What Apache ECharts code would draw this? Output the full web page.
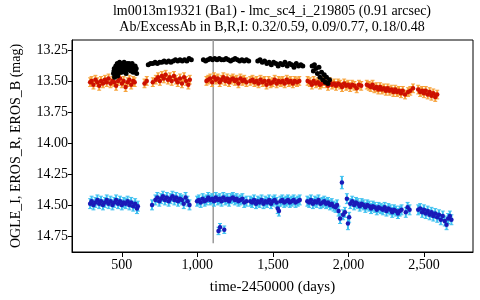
<!DOCTYPE html>
<html><head><meta charset="utf-8">
<script src="https://cdn.jsdelivr.net/npm/echarts@6/dist/echarts.min.js"></script>
<style>html,body{margin:0;padding:0;background:#fff}#c{width:480px;height:300px}</style>
</head><body><div id="c"></div>
<script>
const titleLines = ["lm0013m19321 (Ba1) - lmc_sc4_i_219805 (0.91 arcsec)", "Ab/ExcessAb in B,R,I: 0.32/0.59, 0.09/0.77, 0.18/0.48"];
const xTicks = [500, 1000, 1500, 2000, 2500];
const yTicks = [13.25, 13.5, 13.75, 14.0, 14.25, 14.5, 14.75];
const markerDay = 1105;

// [day, mag, err]
const erosR = [
[290,13.51,.035],[300,13.50,.035],[312,13.53,.035],[325,13.49,.035],[338,13.51,.035],[350,13.54,.035],[362,13.50,.035],[375,13.52,.035],[388,13.49,.035],[400,13.51,.035],[412,13.48,.035],[425,13.52,.035],[438,13.50,.035],[450,13.51,.035],[462,13.54,.035],[475,13.50,.035],[488,13.48,.035],[500,13.52,.035],[512,13.50,.035],[525,13.55,.035],[538,13.51,.035],[550,13.49,.035],[562,13.53,.035],[575,13.50,.035],[585,13.51,.035],
[650,13.52,.035],[665,13.50,.035],[705,13.51,.035],
[725,13.49,.035],[740,13.47,.035],[752,13.50,.035],[765,13.46,.035],[778,13.48,.035],[790,13.45,.035],[805,13.49,.035],[818,13.47,.035],[830,13.50,.035],[845,13.46,.035],[858,13.49,.035],[870,13.51,.035],[885,13.48,.035],[898,13.52,.035],[912,13.47,.035],[925,13.50,.035],[940,13.53,.035],[950,13.49,.035],
[1060,13.50,.035],[1072,13.49,.035],[1085,13.48,.035],[1098,13.51,.035],[1110,13.47,.035],[1122,13.49,.035],[1135,13.48,.035],[1148,13.51,.035],[1160,13.49,.035],[1172,13.47,.035],[1185,13.50,.035],[1198,13.48,.035],[1210,13.51,.035],[1222,13.49,.035],[1235,13.48,.035],[1248,13.50,.035],[1260,13.49,.035],[1272,13.52,.035],[1285,13.48,.035],[1298,13.50,.035],[1310,13.49,.035],[1325,13.51,.035],
[1350,13.50,.035],[1365,13.49,.035],[1378,13.51,.035],[1392,13.50,.035],[1405,13.52,.035],[1418,13.49,.035],[1432,13.51,.035],[1445,13.50,.035],[1458,13.53,.035],[1472,13.50,.035],[1485,13.52,.035],[1498,13.51,.035],[1512,13.49,.035],[1525,13.52,.035],[1538,13.50,.035],[1552,13.51,.035],[1565,13.50,.035],[1578,13.52,.035],[1592,13.49,.035],[1605,13.51,.035],[1618,13.50,.035],[1632,13.52,.035],[1645,13.50,.035],[1660,13.51,.035],[1675,13.50,.035],
[1730,13.50,.035],[1745,13.51,.035],[1758,13.53,.035],[1770,13.50,.035],[1785,13.52,.035],[1798,13.51,.035],[1812,13.53,.035],[1825,13.52,.035],[1838,13.50,.035],[1852,13.52,.035],[1865,13.54,.035],[1878,13.51,.035],[1892,13.53,.035],[1905,13.52,.035],[1918,13.54,.035],[1932,13.52,.035],[1945,13.53,.035],[1958,13.55,.035],[1972,13.52,.035],[1985,13.54,.035],[1998,13.53,.035],[2012,13.55,.035],[2025,13.53,.035],[2040,13.54,.035],[2055,13.56,.035],[2070,13.53,.035],[2085,13.54,.035],
[2122,13.53,.035],[2135,13.54,.035],[2148,13.55,.035],[2160,13.53,.035],[2172,13.56,.035],[2185,13.55,.035],[2198,13.57,.035],[2210,13.55,.035],[2222,13.57,.035],[2235,13.56,.035],[2248,13.58,.035],[2260,13.56,.035],[2272,13.58,.035],[2285,13.57,.035],[2298,13.59,.035],[2310,13.57,.035],[2322,13.59,.035],[2335,13.58,.035],[2348,13.60,.035],[2360,13.58,.035],[2375,13.61,.035],[2395,13.59,.035],[2410,13.58,.035],[2428,13.56,.035],
[2462,13.57,.035],[2475,13.59,.035],[2488,13.58,.035],[2500,13.60,.035],[2512,13.58,.035],[2525,13.61,.035],[2538,13.59,.035],[2550,13.62,.035],[2562,13.60,.035],[2575,13.63,.035],[2588,13.61,.035]
];

const erosB = [
[445,13.44],[448,13.42],[450,13.40],[452,13.47],[455,13.46],[458,13.45],[460,13.38],[462,13.44],[465,13.42],[468,13.40],[470,13.36],[472,13.46],[475,13.44],[478,13.37],[480,13.39],[485,13.35],[488,13.43],[490,13.41],[495,13.37],[498,13.39],[500,13.43],[505,13.36],[508,13.41],[510,13.39],[515,13.35],[518,13.38],[520,13.42],[525,13.37],[528,13.44],[530,13.40],[535,13.36],[538,13.40],[540,13.38],[545,13.41],[548,13.36],[550,13.37],[555,13.39],[558,13.40],[560,13.42],[565,13.38],[568,13.36],[570,13.40],[575,13.43],[578,13.41],[580,13.39],[588,13.38],[590,13.41],[595,13.40],[598,13.44],
[675,13.37],[690,13.36],[705,13.36],[720,13.35],[735,13.36],[750,13.35],[765,13.35],[780,13.34],[795,13.35],[810,13.34],[825,13.35],[840,13.34],[855,13.33],[870,13.34],[885,13.33],[900,13.34],[915,13.33],[930,13.34],[945,13.32],[960,13.33],
[1040,13.33],[1055,13.34],[1070,13.33],[1085,13.32],[1100,13.33],[1115,13.32],[1130,13.33],[1145,13.32],[1160,13.33],[1175,13.33],[1190,13.32],[1205,13.33],[1220,13.34],[1235,13.33],[1250,13.32],[1265,13.33],[1280,13.34],[1295,13.33],[1310,13.34],[1325,13.33],[1340,13.34],
[1400,13.34],[1415,13.33],[1430,13.35],[1445,13.34],[1460,13.36],[1475,13.35],[1490,13.37],[1505,13.35],[1520,13.36],[1535,13.38],[1550,13.36],[1565,13.37],[1580,13.35],[1595,13.38],[1610,13.36],[1625,13.37],[1640,13.39],[1655,13.36],[1670,13.38],[1685,13.37],[1698,13.38],
[1760,13.38],[1768,13.42],[1775,13.37],[1785,13.40],[1795,13.44],[1805,13.39],[1812,13.47],[1822,13.43],[1830,13.49],[1840,13.45],[1848,13.51],[1855,13.47],[1865,13.52],[1875,13.49]
];

const ogleI = [
[290,14.49,.04],[300,14.47,.04],[312,14.50,.04],[325,14.48,.04],[338,14.46,.04],[350,14.49,.04],[362,14.47,.04],[375,14.50,.04],[388,14.48,.04],[400,14.46,.04],[412,14.49,.04],[425,14.47,.04],[438,14.50,.04],[450,14.48,.04],[462,14.46,.04],[475,14.49,.04],[488,14.47,.04],[500,14.50,.04],[512,14.48,.04],[525,14.49,.04],[538,14.47,.04],[550,14.50,.04],[562,14.48,.04],[575,14.51,.04],[588,14.49,.04],[600,14.53,.04],[606,14.51,.04],
[700,14.50,.04],
[722,14.46,.04],[735,14.44,.04],[748,14.47,.04],[760,14.45,.04],[772,14.43,.04],[785,14.46,.04],[798,14.44,.04],[810,14.47,.04],[822,14.45,.04],[835,14.43,.04],[848,14.46,.04],[860,14.44,.04],[872,14.47,.04],[885,14.45,.04],[898,14.46,.04],[910,14.49,.04],[922,14.44,.04],[935,14.47,.04],[948,14.50,.04],
[998,14.47,.04],[1010,14.46,.04],[1022,14.48,.04],[1035,14.45,.04],[1048,14.47,.04],[1060,14.46,.04],[1072,14.44,.04],[1085,14.46,.04],[1098,14.45,.04],[1110,14.47,.04],[1122,14.44,.04],[1135,14.46,.04],[1148,14.45,.04],[1160,14.47,.04],[1172,14.44,.04],[1185,14.46,.04],[1198,14.45,.04],[1210,14.47,.04],[1222,14.45,.04],[1235,14.44,.04],[1248,14.46,.04],[1260,14.45,.04],[1272,14.47,.04],[1285,14.46,.04],[1298,14.45,.04],[1310,14.48,.04],[1325,14.47,.04],
[1140,14.71,.03],[1150,14.68,.03],[1178,14.70,.03],
[1350,14.47,.04],[1362,14.48,.04],[1375,14.46,.04],[1388,14.49,.04],[1400,14.47,.04],[1412,14.48,.04],[1425,14.46,.04],[1438,14.49,.04],[1450,14.47,.04],[1462,14.48,.04],[1475,14.46,.04],[1488,14.49,.04],[1500,14.47,.04],[1512,14.46,.04],[1525,14.48,.04],[1532,14.53,.04],[1540,14.55,.04],[1550,14.47,.04],[1562,14.46,.04],[1575,14.48,.04],[1588,14.47,.04],[1600,14.46,.04],[1612,14.48,.04],[1625,14.47,.04],[1638,14.46,.04],[1650,14.48,.04],[1665,14.47,.04],[1678,14.46,.04],
[1728,14.47,.04],[1740,14.48,.04],[1752,14.46,.04],[1765,14.49,.04],[1778,14.47,.04],[1790,14.48,.04],[1802,14.46,.04],[1815,14.49,.04],[1828,14.48,.04],[1840,14.47,.04],[1852,14.49,.04],[1865,14.48,.04],[1878,14.50,.04],[1890,14.49,.04],[1902,14.51,.04],[1915,14.52,.04],[1925,14.50,.04],[1935,14.55,.04],[1945,14.61,.04],[1957,14.32,.05],[1965,14.58,.04],[1977,14.56,.04],[1990,14.45,.04],[1997,14.65,.05],[2005,14.60,.04],
[2012,14.49,.04],[2025,14.47,.04],[2038,14.50,.04],[2050,14.48,.04],[2062,14.49,.04],[2075,14.51,.04],[2088,14.49,.04],[2100,14.50,.04],[2112,14.52,.04],[2125,14.50,.04],[2138,14.51,.04],[2150,14.53,.04],[2162,14.51,.04],[2175,14.52,.04],[2188,14.54,.04],[2200,14.52,.04],
[2215,14.53,.04],[2228,14.54,.04],[2240,14.52,.04],[2252,14.55,.04],[2265,14.53,.04],[2278,14.54,.04],[2290,14.56,.04],[2302,14.54,.04],[2315,14.55,.04],[2328,14.57,.04],[2340,14.55,.04],[2352,14.54,.04],[2380,14.56,.04],[2392,14.52,.04],[2405,14.54,.04],
[2462,14.54,.04],[2475,14.53,.04],[2488,14.56,.04],[2500,14.54,.04],[2512,14.57,.04],[2525,14.55,.04],[2538,14.58,.04],[2550,14.56,.04],[2562,14.59,.04],[2575,14.57,.04],[2588,14.60,.04],[2600,14.58,.04],[2612,14.62,.04],[2625,14.59,.04],[2638,14.63,.04],[2650,14.66,.04],[2660,14.61,.04],[2672,14.59,.04],[2682,14.62,.04]
];

const FONT = '"Liberation Serif", "DejaVu Serif", serif';
function errBars(data, color) {
  return {
    type: 'custom', data: data, z: 2, silent: true,
    encode: { x: 0, y: 1 },
    renderItem: function (params, api) {
      const x = api.value(0), y = api.value(1), e = api.value(2);
      const p1 = api.coord([x, y - e]), p2 = api.coord([x, y + e]);
      const st = { stroke: color, lineWidth: 2 };
      return { type: 'group', children: [
        { type: 'line', shape: { x1: p1[0], y1: p1[1], x2: p2[0], y2: p2[1] }, style: st },
        { type: 'line', shape: { x1: p1[0]-2, y1: p1[1], x2: p1[0]+2, y2: p1[1] }, style: { stroke: color, lineWidth: 1 } },
        { type: 'line', shape: { x1: p2[0]-2, y1: p2[1], x2: p2[0]+2, y2: p2[1] }, style: { stroke: color, lineWidth: 1 } }
      ]};
    }
  };
}
function dots(data, color, size, z) {
  return { type: 'scatter', data: data.map(d => [d[0], d[1]]), symbolSize: size, z: z,
    itemStyle: { color: color, opacity: 1 }, silent: true };
}

const chart = echarts.init(document.getElementById('c'), null, { renderer: 'canvas' });
chart.setOption({
  animation: false,
  graphic: [
    { type: 'text', x: 272, y: 4, style: { text: titleLines[0], font: '14px ' + FONT, fill: '#000', textAlign: 'center', textVerticalAlign: 'top' } },
    { type: 'text', x: 272, y: 20, style: { text: titleLines[1], font: '14px ' + FONT, fill: '#000', textAlign: 'center', textVerticalAlign: 'top' } }
  ],
  grid: { left: 72, right: 7, top: 40, bottom: 48, show: true, borderColor: '#000', borderWidth: 1, containLabel: false },
  xAxis: {
    type: 'value', min: 170, max: 2825,
    name: 'time-2450000 (days)', nameLocation: 'middle', nameGap: 28,
    nameTextStyle: { fontFamily: FONT, fontSize: 15, color: '#000' },
    axisLine: { show: true, lineStyle: { color: '#000', width: 1 } },
    axisTick: { show: true, length: 5, customValues: xTicks, lineStyle: { color: '#000' } },
    axisLabel: { customValues: xTicks, margin: 6, fontFamily: FONT, fontSize: 14, color: '#000',
      formatter: v => String(v).replace(/\B(?=(\d{3})+(?!\d))/g, ',') },
    splitLine: { show: false }
  },
  yAxis: {
    type: 'value', inverse: true, min: 13.17, max: 14.88,
    name: 'OGLE_I, EROS_R, EROS_B (mag)', nameLocation: 'middle', nameGap: 49,
    nameTextStyle: { fontFamily: FONT, fontSize: 14, color: '#000' },
    axisLine: { show: true, lineStyle: { color: '#000', width: 1 } },
    axisTick: { show: true, length: 4, customValues: yTicks, lineStyle: { color: '#000' } },
    axisLabel: { customValues: yTicks, margin: 4, fontFamily: FONT, fontSize: 14, color: '#000',
      formatter: v => v.toFixed(2) },
    splitLine: { show: false }
  },
  series: [
    { type: 'line', data: [[markerDay, 13.17], [markerDay, 14.81]], symbol: 'none', z: 1, silent: true,
      lineStyle: { color: '#9a9a9a', width: 1.5 } },
    errBars(erosR, '#f7a23a'),
    errBars(ogleI, '#3cc0f0'),
    dots(erosR, '#cc1100', 4.5, 3),
    dots(ogleI, '#1a1ab8', 4.5, 3),
    dots(erosB, '#000000', 5, 4)
  ]
});
</script></body></html>
